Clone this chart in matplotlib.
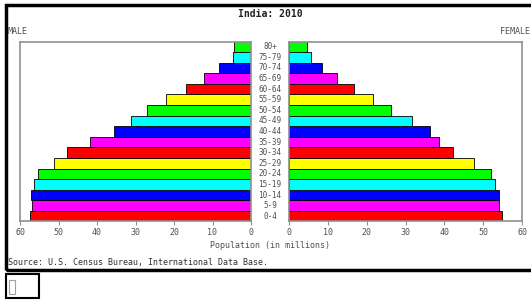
import matplotlib
matplotlib.use("Agg")
import matplotlib.pyplot as plt
from matplotlib.patches import Rectangle

plt.rcParams['font.family'] = 'DejaVu Sans Mono'

# Возрастные группы снизу вверх
ages = ['0-4', '5-9', '10-14', '15-19', '20-24', '25-29', '30-34', '35-39',
        '40-44', '45-49', '50-54', '55-59', '60-64', '65-69', '70-74',
        '75-79', '80+']
male = [57.3, 56.8, 57.1, 56.3, 55.2, 51.2, 47.7, 41.9,
        35.7, 31.2, 26.9, 22.0, 16.8, 12.1, 8.2, 4.8, 4.4]
female = [54.8, 54.0, 54.2, 53.1, 52.1, 47.6, 42.2, 38.7,
          36.3, 31.8, 26.3, 21.6, 16.8, 12.3, 8.4, 5.6, 4.6]
palette = ['#ff0000', '#ff00ff', '#0000ff', '#00ffff', '#00ff00', '#ffff00']
ticks = [0, 10, 20, 30, 40, 50, 60]

W, H = 531, 300
fig = plt.figure(figsize=(W / 100, H / 100), dpi=100)
fig.patch.set_facecolor('white')


def px_axes(x0, y0, x1, y1):
    return fig.add_axes([x0 / W, 1 - y1 / H, (x1 - x0) / W, (y1 - y0) / H])


colors = [palette[i % len(palette)] for i in range(len(ages))]
y = list(range(len(ages)))
gray = '#909090'
txt = '#505050'

ax_m = px_axes(20, 42, 251, 221)
ax_f = px_axes(289, 42, 522, 221)

ax_m.barh(y, male, height=1.0, color=colors, edgecolor='black', linewidth=0.6)
ax_f.barh(y, female, height=1.0, color=colors, edgecolor='black', linewidth=0.6)

ax_m.set_xlim(60, 0)
ax_f.set_xlim(0, 60)
for ax in (ax_m, ax_f):
    ax.set_ylim(-0.45, 16.45)
    ax.set_yticks([])
    ax.set_xticks(ticks)
    ax.tick_params(axis='x', colors=gray, labelcolor=txt, labelsize=6,
                   length=3, width=0.8, pad=2)
    for s in ax.spines.values():
        s.set_color(gray)
        s.set_linewidth(1.2)

# подписи возрастов между половинами
tr = ax_f.get_yaxis_transform()
for yi, a in zip(y, ages):
    ax_f.text(-19 / 233, yi, a, transform=tr, ha='center', va='center',
              fontsize=5.5, color=txt, clip_on=False)

fig.text(270 / W, 1 - 14 / H, 'India: 2010', ha='center', va='center',
         fontsize=7, fontweight='bold', color='#202020')
fig.text(8 / W, 1 - 31 / H, 'MALE', ha='left', va='center', fontsize=6, color=txt)
fig.text(530 / W, 1 - 31 / H, 'FEMALE', ha='right', va='center', fontsize=6, color=txt)
fig.text(270 / W, 1 - 246 / H, 'Population (in millions)', ha='center',
         va='center', fontsize=6, color=txt)
fig.text(8 / W, 1 - 262 / H, 'Source: U.S. Census Bureau, International Data Base.',
         ha='left', va='center', fontsize=6, color='#303030')

# рамки
fig.patches.append(Rectangle((6 / W, 1 - 270 / H), 540 / W, 265 / H,
                             transform=fig.transFigure, fill=False,
                             edgecolor='black', linewidth=2.5))
fig.patches.append(Rectangle((6 / W, 1 - 298 / H), 33 / W, 24 / H,
                             transform=fig.transFigure, fill=False,
                             edgecolor='black', linewidth=1.5))
fig.patches.append(Rectangle((9 / W, 1 - 294 / H), 6 / W, 14 / H,
                             transform=fig.transFigure, fill=False,
                             edgecolor='#a0a0a0', linewidth=0.8))

fig.savefig('out.png', dpi=100)
